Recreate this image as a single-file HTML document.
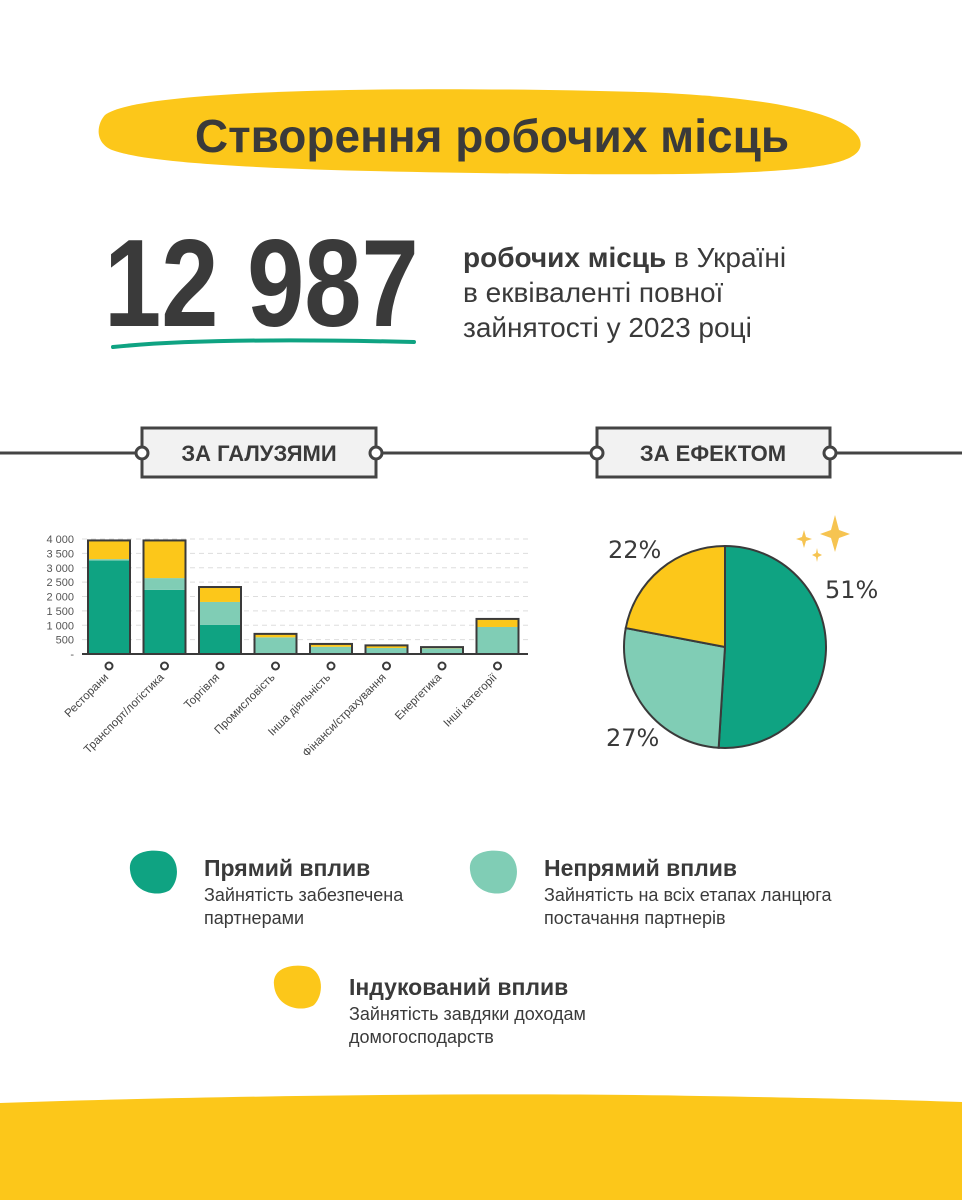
<!DOCTYPE html>
<html><head><meta charset="utf-8">
<style>
body{margin:0;background:#fff;}
#page{position:relative;width:962px;height:1200px;overflow:hidden;background:#fff;font-family:"Liberation Sans","DejaVu Sans",sans-serif;color:#3a3a3a;}
.abs{position:absolute;}
</style></head>
<body>
<div id="page">
<svg class="abs" style="left:0;top:0" width="962" height="1200">
  <path d="M105,115 C140,88 420,86 640,92 C760,96 850,112 860,140 C868,168 800,176 560,174 C360,172 160,168 112,150 C95,143 96,125 105,115 Z" fill="#fcc71a"/>
  <path d="M113,347 C200,338 330,340 414,342" stroke="#0fa382" stroke-width="4" fill="none" stroke-linecap="round"/>
  <line x1="0" y1="453" x2="962" y2="453" stroke="#444" stroke-width="3"/>
  <rect x="142" y="428" width="234" height="49" fill="#f2f2f2" stroke="#444" stroke-width="3"/>
  <circle cx="142" cy="453" r="6" fill="#fff" stroke="#444" stroke-width="3"/>
  <circle cx="376" cy="453" r="6" fill="#fff" stroke="#444" stroke-width="3"/>
  <rect x="597" y="428" width="233" height="49" fill="#f2f2f2" stroke="#444" stroke-width="3"/>
  <circle cx="597" cy="453" r="6" fill="#fff" stroke="#444" stroke-width="3"/>
  <circle cx="830" cy="453" r="6" fill="#fff" stroke="#444" stroke-width="3"/>
  <text x="259" y="461" text-anchor="middle" font-family="Liberation Sans" font-weight="bold" font-size="22" fill="#3a3a3a">ЗА ГАЛУЗЯМИ</text>
  <text x="713" y="461" text-anchor="middle" font-family="Liberation Sans" font-weight="bold" font-size="22" fill="#3a3a3a">ЗА ЕФЕКТОМ</text>
  <path d="M0,1103 C200,1096 500,1092 700,1096 C820,1098 900,1100 962,1102 L962,1200 L0,1200 Z" fill="#fcc71a"/>
  <g fill="#f6c451">
    <path d="M835,515 L839,530 L850,534 L839,538 L835,552 L831,538 L820,534 L831,530 Z"/>
    <path d="M804,530 L806,537 L812,539 L806,541 L804,548 L802,541 L796,539 L802,537 Z"/>
    <path d="M817,548 L818,553 L822,555 L818,557 L817,562 L816,557 L812,555 L816,553 Z"/>
  </g>
  <g>
    <path d="M130,870 C128,852 150,848 165,852 C180,858 180,880 170,890 C158,898 132,893 130,870Z" fill="#0fa382"/>
    <path d="M470,870 C468,852 490,848 505,852 C520,858 520,880 510,890 C498,898 472,893 470,870Z" fill="#80cdb5"/>
    <path d="M274,985 C272,967 294,963 309,967 C324,973 324,995 314,1005 C302,1013 276,1008 274,985Z" fill="#fcc71a"/>
  </g>
</svg>

<div class="abs" style="left:97px;top:109px;width:790px;text-align:center;font-size:46px;font-weight:bold;color:#3a3a3a;">Створення робочих місць</div>
<div class="abs" style="left:104px;top:214px;font-size:124px;line-height:140px;font-weight:bold;color:#3a3a3a;font-family:'Liberation Sans',sans-serif;transform:scaleX(0.83);transform-origin:left;white-space:nowrap;">12 987</div>
<div class="abs" style="left:463px;top:240px;font-size:28px;line-height:35px;color:#3a3a3a;"><b>робочих місць</b> в Україні<br>в еквіваленті повної<br>зайнятості у 2023 році</div>

<svg class="abs" style="left:0;top:500px" width="560" height="300" id="bar"></svg>
<svg class="abs" style="left:580px;top:500px" width="382" height="280" id="pie"></svg>

<div class="abs" style="left:204px;top:855px;">
  <div style="font-size:23px;font-weight:bold;">Прямий вплив</div>
  <div style="font-size:18px;line-height:23px;margin-top:2px;">Зайнятість забезпечена<br>партнерами</div>
</div>
<div class="abs" style="left:544px;top:855px;">
  <div style="font-size:23px;font-weight:bold;">Непрямий вплив</div>
  <div style="font-size:18px;line-height:23px;margin-top:2px;">Зайнятість на всіх етапах ланцюга<br>постачання партнерів</div>
</div>
<div class="abs" style="left:349px;top:974px;">
  <div style="font-size:23px;font-weight:bold;">Індукований вплив</div>
  <div style="font-size:18px;line-height:23px;margin-top:2px;">Зайнятість завдяки доходам<br>домогосподарств</div>
</div>

<script>
const categories=["Ресторани","Транспорт/логістика","Торгівля","Промисловість","Інша діяльність","Фінанси/страхування","Енергетика","Інші категорії"];
const directVals=[3250,2230,1010,0,0,0,0,0];
const indirectVals=[50,410,800,580,250,210,200,940];
const inducedVals=[650,1310,520,120,100,90,40,280];
const yTicks=[0,500,1000,1500,2000,2500,3000,3500,4000];
const yTickLabels=["-","500","1 000","1 500","2 000","2 500","3 000","3 500","4 000"];
const pieLabels=["51%","27%","22%"];
const pieVals=[51,27,22];

const NS="http://www.w3.org/2000/svg";
function mk(p,t,a){const e=document.createElementNS(NS,t);for(const k in a)e.setAttribute(k,a[k]);p.appendChild(e);return e;}
const bar=document.getElementById('bar');
const y0=154,ys=115/4000;
function Y(v){return y0-v*ys;}
function X(i){return 109+i*55.5;}
yTicks.forEach((t,i)=>{
  if(t>0){const l=mk(bar,'line',{x1:82,x2:528,y1:Y(t),y2:Y(t),stroke:'#ddd','stroke-dasharray':'5,4'});
  
  }
  const tx=mk(bar,'text',{x:74,y:Y(t)+4,'text-anchor':'end','font-size':11,fill:'#555','font-family':'Liberation Sans'});
  tx.textContent=yTickLabels[i];
  
  
});
categories.forEach((c,i)=>{
  const x=X(i)-21,w=42;
  const segs=[[directVals[i],'#0fa382'],[indirectVals[i],'#80cdb5'],[inducedVals[i],'#fcc71a']];
  let acc=0;
  segs.forEach(s=>{ if(s[0]>0){const r=mk(bar,'rect',{x:x,y:Y(acc+s[0]),width:w,height:s[0]*ys,fill:s[1]});
    
    } acc+=s[0];});
  const o=mk(bar,'rect',{x:x,y:Y(acc),width:w,height:acc*ys,fill:'none',stroke:'#3a3a3a','stroke-width':2});
  
  
  const d=mk(bar,'circle',{cx:X(i),cy:166,r:3.5,fill:'#fff',stroke:'#3a3a3a','stroke-width':2});
  
  
  const t=mk(bar,'text',{x:X(i),y:178,'text-anchor':'end','font-size':11.5,fill:'#444','font-family':'Liberation Sans',transform:`rotate(-45 ${X(i)} 178)`});
  t.textContent=c;
  
  
});
const ax=mk(bar,'line',{x1:82,x2:528,y1:y0,y2:y0,stroke:'#3a3a3a','stroke-width':2});



const pie=document.getElementById('pie');
const cx=145,cy=147,R=101,cols=['#0fa382','#80cdb5','#fcc71a'];
const tot=pieVals.reduce((a,b)=>a+b,0);
let a0=-Math.PI/2;
pieVals.forEach((v,i)=>{
  const a1=a0+v/tot*2*Math.PI;
  const p=mk(pie,'path',{d:`M${cx},${cy} L${cx+R*Math.cos(a0)},${cy+R*Math.sin(a0)} A${R},${R} 0 ${a1-a0>Math.PI?1:0} 1 ${cx+R*Math.cos(a1)},${cy+R*Math.sin(a1)} Z`,fill:cols[i],stroke:'#3a3a3a','stroke-width':2});
  
  
  a0=a1;
});
const lp=[[245,98],[26,246],[28,58]];
pieLabels.forEach((l,i)=>{
  const t=mk(pie,'text',{x:lp[i][0],y:lp[i][1],'font-size':24,fill:'#3a3a3a','font-family':'DejaVu Sans'});
  t.textContent=l;
  
  
});
</script>
</div>
</body></html>
